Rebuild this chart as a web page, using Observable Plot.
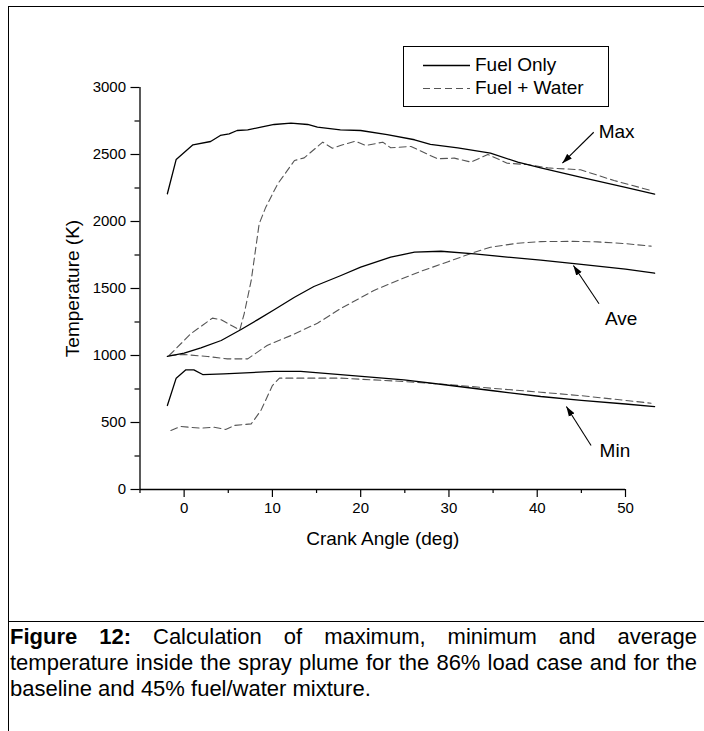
<!DOCTYPE html>
<html>
<head>
<meta charset="utf-8">
<script src="https://cdn.jsdelivr.net/npm/d3@7"></script>
<script src="https://cdn.jsdelivr.net/npm/@observablehq/plot@0.6"></script>
<style>
html,body{margin:0;padding:0;background:#fff;}
body{font-family:"Liberation Sans",Arial,Helvetica,sans-serif;color:#000;}
#page{position:relative;width:704px;height:731px;overflow:hidden;background:#fff;}
#chart{position:absolute;left:0;top:0;}
.frame-top{position:absolute;left:8px;top:6px;right:0;height:0;border-top:1px solid #000;}
.frame-left{position:absolute;left:8px;top:6px;bottom:0;width:0;border-left:1px solid #000;}
.sep{position:absolute;left:8px;top:621px;right:0;height:0;border-top:1px solid #000;}
#legend{position:absolute;left:403px;top:46px;width:206px;height:61px;border:1px solid #000;box-sizing:border-box;background:#fff;font-size:19px;}
#legend .row{position:absolute;left:0;height:22px;line-height:22px;white-space:nowrap;}
#legend svg{position:absolute;left:19px;top:0;}
#legend span{position:absolute;left:71px;top:0;}
.caption{position:absolute;left:10px;top:624px;width:687px;font-size:22px;line-height:26px;}
.caption div{white-space:nowrap;}
.caption .just{text-align:justify;text-align-last:justify;white-space:normal;}
</style>
</head>
<body>
<div id="page">
  <div id="chart"></div>
  <div class="frame-top"></div>
  <div class="frame-left"></div>
  <div class="sep"></div>
  <div id="legend"></div>
  <div class="caption" id="caption"></div>
</div>
<script>
// ---- data (crank angle in deg, temperature in K) ----
const maxFuelOnly = [[-1.9,2207],[-0.9,2463],[1.0,2572],[3.0,2597],[4.1,2642],[5.1,2654],[6.0,2679],[7.2,2684],[8.7,2704],[10.2,2724],[12.1,2734],[14.0,2724],[15.1,2704],[17.7,2684],[20.0,2679],[23.0,2649],[26.1,2610],[27.9,2575],[31.0,2550],[34.7,2510],[37.8,2443],[40.4,2400],[45.0,2330],[50.0,2255],[53.3,2205]];
const maxFuelWater = [[-1.7,1000],[0.75,1162],[3.2,1279],[4.2,1266],[6.3,1190],[6.8,1311],[7.6,1560],[8.5,1983],[9.25,2107],[10.6,2281],[12.5,2455],[13.6,2475],[15.7,2592],[16.8,2547],[17.7,2567],[19.4,2599],[20.6,2567],[22.5,2592],[23.4,2550],[25.7,2560],[28.7,2468],[30.6,2473],[32.5,2443],[34.4,2500],[36.6,2435],[38.9,2425],[41.2,2400],[44.9,2386],[48.7,2306],[52.9,2231]];
const aveFuelOnly = [[-1.9,993],[0.0,1017],[1.9,1057],[4.2,1112],[6.4,1192],[8.3,1266],[10.2,1341],[12.5,1435],[14.7,1515],[17.7,1595],[20.0,1659],[23.4,1734],[26.1,1771],[29.1,1778],[32.9,1759],[36.6,1734],[40.4,1712],[45.0,1680],[50.0,1645],[53.3,1614]];
const aveFuelWater = [[-1.7,1000],[0.0,1007],[2.65,993],[4.9,975],[7.2,975],[9.4,1075],[12.1,1149],[15.1,1241],[17.7,1349],[21.5,1485],[24.2,1560],[26.8,1628],[29.9,1700],[32.9,1771],[34.7,1808],[37.8,1838],[40.4,1850],[44.0,1852],[46.8,1848],[50.0,1835],[52.9,1816]];
const minFuelOnly = [[-1.9,627],[-0.9,831],[0.2,893],[1.1,893],[2.1,858],[4.5,863],[10.2,881],[13.2,881],[17.7,858],[24.9,818],[30.2,776],[35.0,737],[40.4,694],[45.0,665],[50.0,638],[53.3,619]];
const minFuelWater = [[-1.5,440],[-0.4,470],[1.9,458],[3.4,465],[4.7,448],[5.7,478],[7.6,490],[8.7,590],[10.0,776],[10.8,831],[17.7,831],[24.9,806],[30.2,781],[35.0,755],[40.4,726],[45.0,700],[50.0,665],[52.9,644]];

const seriesNames = ["Fuel Only", "Fuel + Water"];
const yMajorTicks = [0, 500, 1000, 1500, 2000, 2500, 3000];
const yMinorTicks = [250, 750, 1250, 1750, 2250, 2750];
const xMajorTicks = [0, 10, 20, 30, 40, 50];
const xMinorTicks = [-5, 5, 15, 25, 35, 45];
const xLabel = "Crank Angle (deg)";
const yLabel = "Temperature (K)";

// annotation labels with arrow start/end (data units)
const noteText = ["Max", "Ave", "Min"];
const noteX = [49.0, 49.5, 48.8];
const noteT = [2666, 1274, 291];
const arrowFromX = [46.4, 47.0, 46.1];
const arrowFromT = [2666, 1386, 328];
const arrowToX = [42.85, 44.1, 43.3];
const arrowToT = [2435, 1672, 619];

const captionLines = [
  "<b>Figure 12:</b> Calculation of maximum, minimum and average",
  "temperature inside the spray plume for the 86% load case and for the",
  "baseline and 45% fuel/water mixture."
];

// ---- build table ----
const groups = [
  {fuel: seriesNames[0], kind: "Max", pts: maxFuelOnly},
  {fuel: seriesNames[1], kind: "Max", pts: maxFuelWater},
  {fuel: seriesNames[0], kind: "Ave", pts: aveFuelOnly},
  {fuel: seriesNames[1], kind: "Ave", pts: aveFuelWater},
  {fuel: seriesNames[0], kind: "Min", pts: minFuelOnly},
  {fuel: seriesNames[1], kind: "Min", pts: minFuelWater}
];
const rows = groups.flatMap(g => g.pts.map(([x, t]) => ({x, t, fuel: g.fuel, key: g.fuel + "|" + g.kind})));
const notes = noteText.map((s, i) => ({s, x: noteX[i], t: noteT[i], x1: arrowFromX[i], t1: arrowFromT[i], x2: arrowToX[i], t2: arrowToT[i]}));

const font = '"Liberation Sans", Arial, Helvetica, sans-serif';
const dash = "7,4";
const gray = "#555";
const fmt = d3.format("d");

function filledArrow(color, context) {
  const doc = (context && context.document) || document;
  const ns = "http://www.w3.org/2000/svg";
  const m = doc.createElementNS(ns, "marker");
  m.setAttribute("viewBox", "-10 -4 10 8");
  m.setAttribute("markerWidth", "10");
  m.setAttribute("markerHeight", "8");
  m.setAttribute("markerUnits", "userSpaceOnUse");
  m.setAttribute("orient", "auto");
  m.setAttribute("refX", "0");
  m.setAttribute("refY", "0");
  const p = doc.createElementNS(ns, "path");
  p.setAttribute("d", "M-10,-3.3L0,0L-10,3.3Z");
  p.setAttribute("fill", color);
  p.setAttribute("stroke", "none");
  m.appendChild(p);
  return m;
}

function build(arrowMark) {
  return Plot.plot({
    width: 704,
    height: 621,
    marginLeft: 139.5,
    marginRight: 79,
    marginTop: 87,
    marginBottom: 132,
    x: {domain: [-5, 50]},
    y: {domain: [0, 3000]},
    style: {fontFamily: font, background: "transparent", color: "#000", overflow: "visible"},
    marks: [
      Plot.axisY(yMajorTicks, {tickSize: 9, tickPadding: 5, fontSize: 15, strokeWidth: 1.2, tickFormat: fmt, label: null}),
      Plot.axisY(yMinorTicks, {tickSize: 5, strokeWidth: 1.2, text: null, label: null}),
      Plot.axisX(xMajorTicks, {tickSize: 8, tickPadding: 5, fontSize: 15, strokeWidth: 1.2, tickFormat: fmt, label: null}),
      Plot.axisX(xMinorTicks, {tickSize: 4, strokeWidth: 1.2, text: null, label: null}),
      Plot.text([yLabel], {frameAnchor: "left", rotate: -90, dx: -67, text: d => d, fontSize: 19, fill: "#000", lineAnchor: "middle", textAnchor: "middle"}),
      Plot.text([xLabel], {frameAnchor: "bottom", dy: 49, text: d => d, fontSize: 19, fill: "#000", lineAnchor: "middle", textAnchor: "middle"}),
      Plot.ruleX([-5], {y1: 0, y2: 3000, strokeWidth: 1.3}),
      Plot.ruleY([0], {x1: -5, x2: 50, strokeWidth: 1.3}),
      Plot.line(rows.filter(d => d.fuel === seriesNames[1]), {x: "x", y: "t", z: "key", stroke: gray, strokeWidth: 1.1, strokeDasharray: dash}),
      Plot.line(rows.filter(d => d.fuel === seriesNames[0]), {x: "x", y: "t", z: "key", stroke: "#000", strokeWidth: 1.3}),
      arrowMark,
      Plot.text(notes, {x: "x", y: "t", text: "s", fontSize: 19, fill: "#000"})
    ]
  });
}

let chart;
try {
  chart = build(Plot.link(notes, {x1: "x1", y1: "t1", x2: "x2", y2: "t2", stroke: "#000", strokeWidth: 1.1, markerEnd: filledArrow}));
} catch (e) {
  chart = build(Plot.arrow(notes, {x1: "x1", y1: "t1", x2: "x2", y2: "t2", stroke: "#000", strokeWidth: 1.1, headLength: 9, headAngle: 35}));
}
document.getElementById("chart").appendChild(chart);

// ---- legend ----
const legend = document.getElementById("legend");
seriesNames.forEach((name, i) => {
  const row = document.createElement("div");
  row.className = "row";
  row.style.top = (7 + i * 23) + "px";
  row.style.width = "100%";
  const dashed = i === 1;
  row.innerHTML = `<svg width="47" height="22"><line x1="0" x2="47" y1="11.5" y2="11.5" stroke="${dashed ? gray : "#000"}" stroke-width="${dashed ? 1.1 : 1.3}" ${dashed ? `stroke-dasharray="${dash}"` : ""}/></svg><span>${name}</span>`;
  legend.appendChild(row);
});

// ---- caption ----
const cap = document.getElementById("caption");
captionLines.forEach((html, i) => {
  const d = document.createElement("div");
  if (i < captionLines.length - 1) d.className = "just";
  d.innerHTML = html;
  cap.appendChild(d);
});
</script>
</body>
</html>
